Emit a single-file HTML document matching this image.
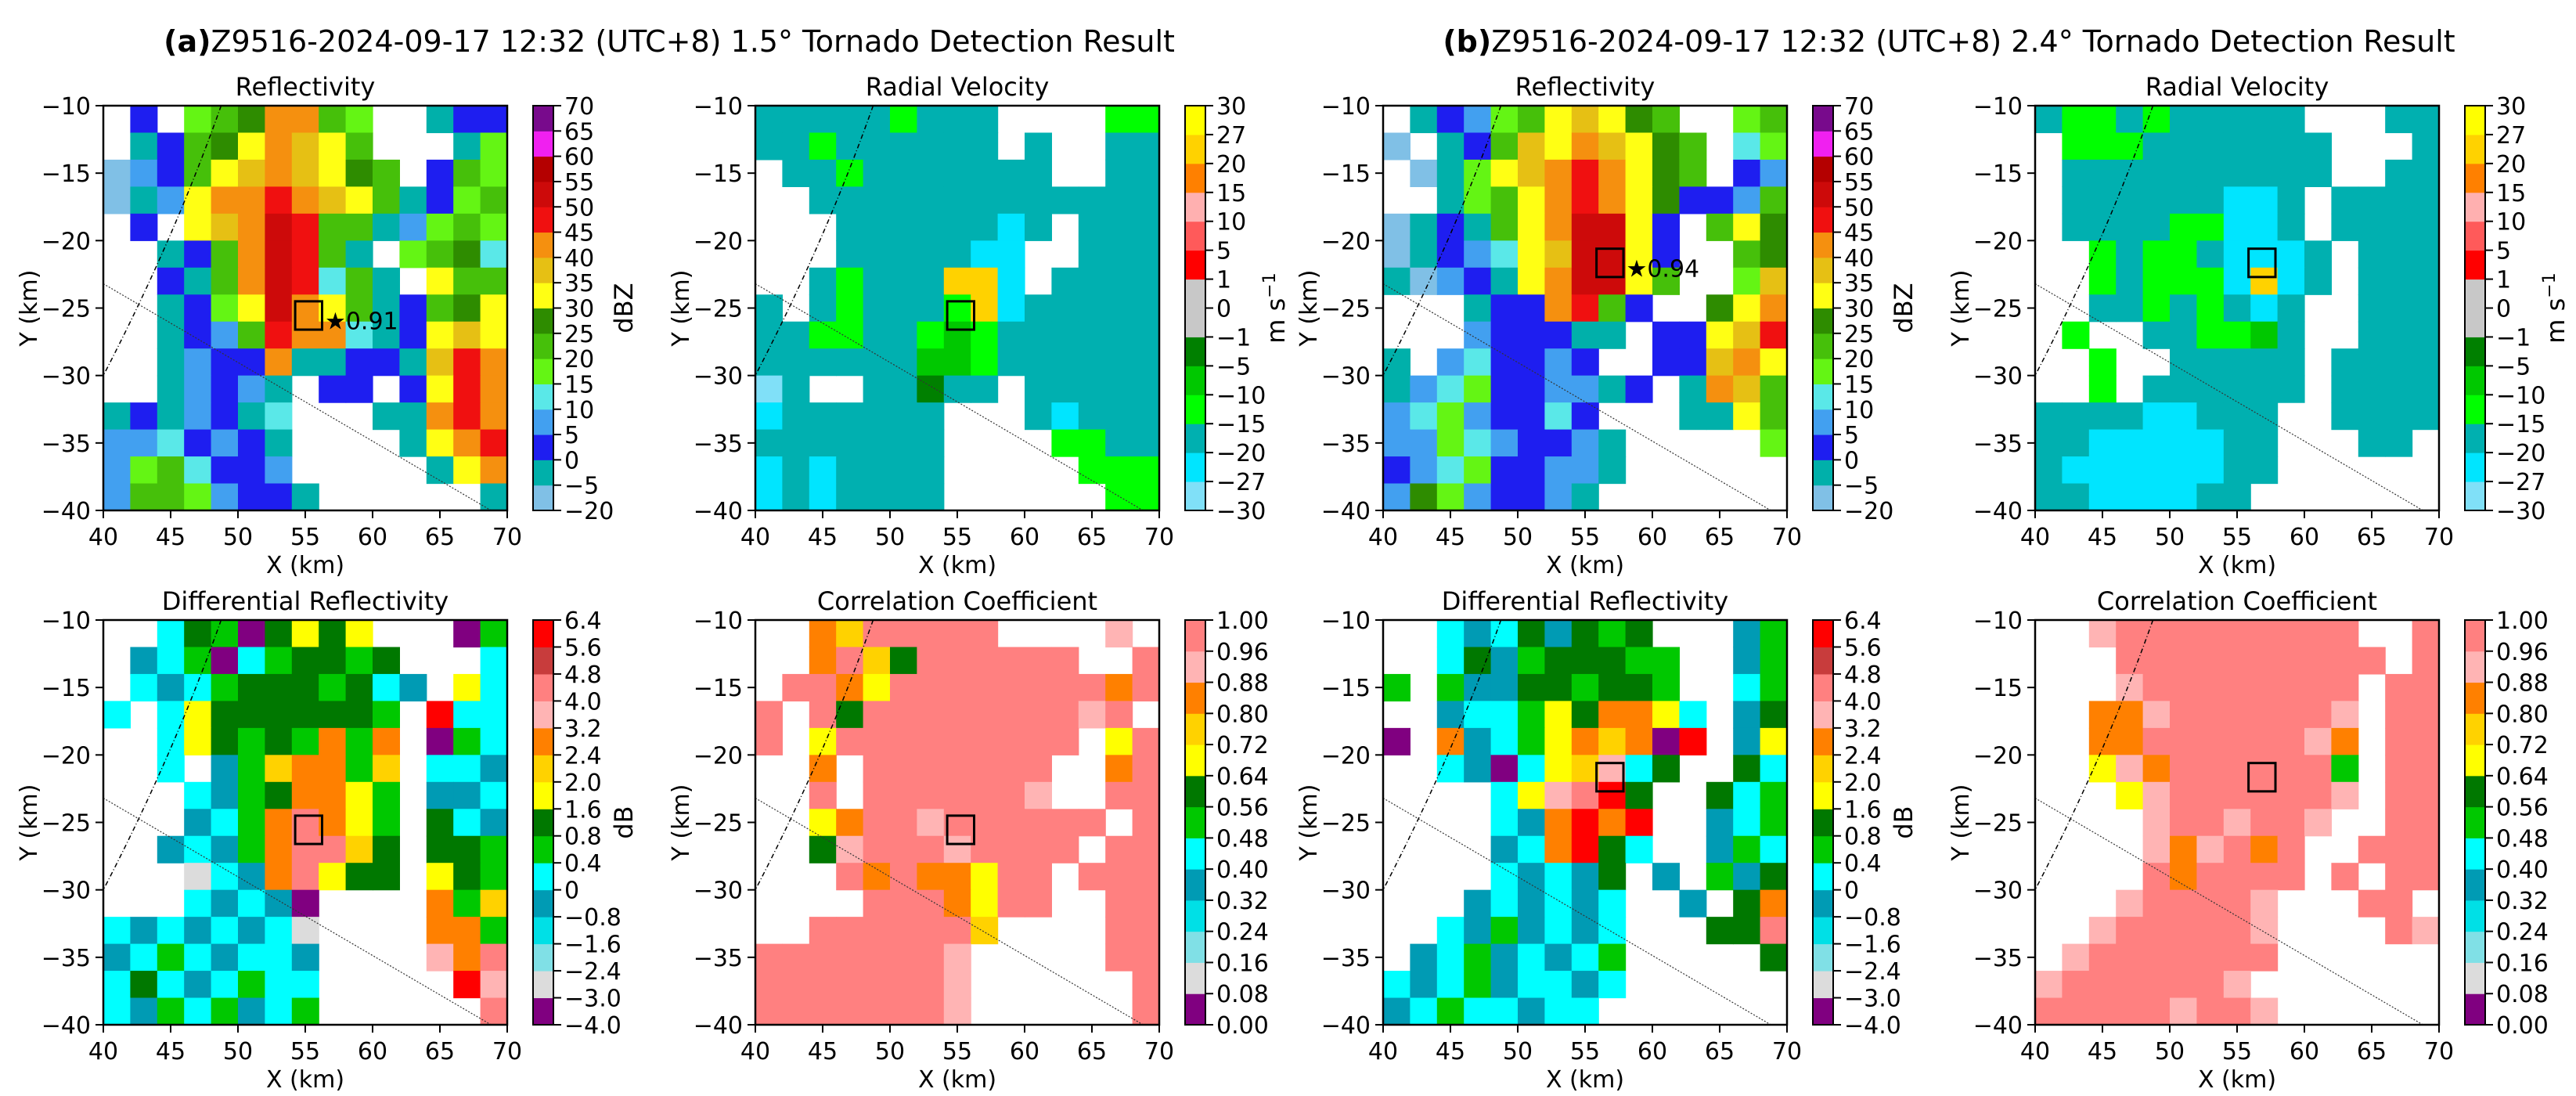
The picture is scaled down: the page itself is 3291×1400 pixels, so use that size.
<!DOCTYPE html>
<html><head><meta charset="utf-8"><style>
html,body{margin:0;padding:0;background:#fff;}
svg{display:block;font-family:"DejaVu Sans","Liberation Sans",sans-serif;}
</style></head><body>
<svg id="fig" width="3291" height="1400" viewBox="0 0 3291 1400" xmlns="http://www.w3.org/2000/svg">
<rect width="3291" height="1400" fill="#fff"/>
<text x="855" y="66" font-size="38" text-anchor="middle"><tspan font-weight="bold">(a)</tspan>Z9516-2024-09-17 12:32 (UTC+8) 1.5° Tornado Detection Result</text>
<text x="2490" y="66" font-size="38" text-anchor="middle"><tspan font-weight="bold">(b)</tspan>Z9516-2024-09-17 12:32 (UTC+8) 2.4° Tornado Detection Result</text>
</svg>
<script>
const xTicks = [40,45,50,55,60,65,70];
const yTicks = [-10,-15,-20,-25,-30,-35,-40];
const reflTicks = ["−20","−5","0","5","10","15","20","25","30","35","40","45","50","55","60","65","70"];
const velTicks = ["−30","−27","−20","−15","−10","−5","−1","0","1","5","10","15","20","27","30"];
const zdrTicks = ["−4.0","−3.0","−2.4","−1.6","−0.8","0","0.4","0.8","1.6","2.0","2.4","3.2","4.0","4.8","5.6","6.4"];
const ccTicks = ["0.00","0.08","0.16","0.24","0.32","0.40","0.48","0.56","0.64","0.72","0.80","0.88","0.96","1.00"];
const reflColors = ['#80c0e6','#00b0aa','#1e1ef0','#42a0f0','#5ae8e8','#64f514','#46c00a','#2e8c00','#ffff14','#e6c014','#f5900f','#f01010','#cd0a0a','#b40000','#f020f0','#780a8c'];
const velColors = ['#80e0f8','#00e5ff','#00b0b0','#00ff00','#00c800','#008000','#c8c8c8','#c8c8c8','#ff0000','#ff5a5a','#ffb0b0','#ff8000','#ffd200','#ffff00'];
const zdrColors = ['#800080','#dcdcdc','#80e0e6','#00e0e6','#009bb4','#00ffff','#00c800','#007800','#ffff00','#ffd200','#ff8000','#ffb4b4','#ff8080','#c83c3c','#ff0000'];
const ccColors = ['#800080','#dcdcdc','#80e0e6','#00e0e6','#009bb4','#00ffff','#00c800','#007800','#ffff00','#ffd200','#ff8000','#ffb4b4','#ff8080'];
const reflCodes = {L:'#80c0e6',T:'#00b0aa',B:'#1e1ef0',M:'#42a0f0',C:'#5ae8e8',l:'#64f514',g:'#46c00a',G:'#2e8c00',y:'#ffff14',o:'#e6c014',O:'#f5900f',r:'#f01010',R:'#cd0a0a'};
const velCodes = {c:'#80e0f8',C:'#00e5ff',T:'#00b0b0',l:'#00ff00',g:'#00c800',G:'#008000',s:'#c8c8c8',r:'#ff0000',p:'#ff5a5a',k:'#ffb0b0',O:'#ff8000',o:'#ffd200',y:'#ffff00'};
const polCodes = {P:'#800080',w:'#dcdcdc',q:'#80e0e6',C:'#00e0e6',T:'#009bb4',c:'#00ffff',g:'#00c800',G:'#007800',y:'#ffff00',o:'#ffd200',O:'#ff8000',k:'#ffb4b4',s:'#ff8080',b:'#c83c3c',r:'#ff0000'};

const gridReflA = [".B.lgGOOgl..TBB",".TBgGyOoyg...Tl","LMBgyoOoyGg.Bgl","LTMyOOrOoygTBlg",".B.yoORrggTMlgl","..TBgORrgT.lgGC","..BTgORrCgT.ygg","..TBlyROygTBgGy","..TBMgrOOCTByoy","..TMBBOTTBBTorO","..TMBMT.BB.ByrO","TBTMBTC...TTOrO","MMCBMBT....TyOr","MlgCBBM.....TyO","MgglMBBT......T"];
const gridVelA = ["TTTTTlTTT....ll","TTlTTTTTT.T..TT",".TTlTTTTTTT..TT","..TTTTTTTTTTTTT","...TTTTTTCT.TTT","...TTTTTCC..TTT","..TlTTTooC.TTTT","T.TlTTTloCTTTTT","TTllTTlglTTTTTT","TTTTTTgglTTTTTT","cT..TTGTT.TTTTT","CTTTTTT...TCTTT","TTTTTTT....llTT","CTCTTTT.....lll","CTCTTTT......ll"];
const gridReflB = [".TBMlgyoyGg..lg","L.TBgoyOoyGg.Cl",".LTlyoOrOyGg.BM","..TlgyOrOyGBBMg","LTBTgyORRyB.gyG","LTBMCyoRRyB..gG","TLMBTyORRyg..lo","...TBBOrgB..GyO","...MBBBTT.BByor","T.MCBBMB..BBoOy","TMClBBMMTB.TOog","MClMBBCB...TTyg","MMlCMBBMT.....l","BMClBBMMT......","MGlMBBMT......."];
const gridVelB = ["TllTlTTTTT...TT",".lllTTTTTTT...T",".TTTTTTTTTT..TT",".TTTTTTCCT.TTTT",".TTTTllCCT.TTTT","..lTllTCCCT.TTT","..lTlllCoCT.TTT","..TTlTlTCT..TTT",".l..TTllgT..TTT","..l..TTTTT.TTTT","..l.TTTTTT.TTTT","TTTTCCTTT..TTTT","TTCCCCCTT...TT.","TCCCCCCTT......","TTCCCCTT......."];
const gridZdrA = ["..cGgPGyGy...Pg",".TcgPcgGGgG...c",".cTcgGGGgGcT.yc","c.cyGGGGGGg.rcc","..cyGgGgOgO.Pgc","..c.TgoOOgo.ccT","...cTgGOOyg.TTc","...TcgOsOyg.GcT","..TcTgOssoG.GGg","...wcTOsyGG.yGg","...cTcTP....Ogo","cTcTcTcw....OOg","TcgcTccT....kOs","cGcTcgcc.....rk","cTgcgTcg......s"];
const gridCcA = ["..Oosssss....k.","..OsoGssssss..s",".ssOyssssssssOs","s.sGssssssssks.","s.ysssssssss.ys","..O.sssssss..Os","..s.ssssssk..ss","..yOsskssssss.s","..Gkssskssss.ss","...sOsOOyss.sss","....sssOyss..ss","..sssssso....ss","sssssssk.....ss","sssssssk......s","sssssssk......s"];
const gridZdrB = ["..cTcGTGgG...Tg","..cGTgGGGgg..Tg","g.gTTGGgGGg..cg","..TccgyGOOyc.TG","P.OTcgyOoOPr.Ty","..cTPcyokcG..Gc","....cyksrG..Gcg","....cTOrOr..Tcg","....TcOrGc..Tgc","....cTcTG.T.gTG","...TcTcTc..T.GO","..cTgTcTc...GGs",".TcgTcTcg.....G","cTcgTccTc......","TcgccTcc......."];
const gridCcB = ["..ksssssssss..s","...ssssssssss.s","...kssssssss.ss","..OOkssssssk.ss","..OOsssssskO.ss","..ykOssssssg.ss","...ykssssssk.ss","....ksskssk..ss","....kOksOs..sss","....sOssss.s.ss","...kssssk...ss.","..ksssssk....sk",".ksssssss......","kssssssk.......","ssssskssk......"];
const boxA = [54.25,-24.5];
const boxB = [55.85,-20.6];
const probA = ["0.91"];
const probB = ["0.94"];

const NS = "http://www.w3.org/2000/svg";
const svg = document.getElementById('fig');
const PW = 516, PH = 517;
function mk(tag, attrs, parent){ const e=document.createElementNS(NS,tag); for(const k in attrs) e.setAttribute(k,attrs[k]); (parent||svg).appendChild(e); return e; }
function xs(p,km){ return p.x + (km-40)/30*PW; }
function ys(p,km){ return p.y + (-10-km)/30*PH; }

const panels = [
 {x:132,y:135,title:"Reflectivity",grid:gridReflA,codes:reflCodes,cb:reflColors,ct:reflTicks,unit:"dBZ",box:boxA,prob:probA,name:"a-reflectivity"},
 {x:965,y:135,title:"Radial Velocity",grid:gridVelA,codes:velCodes,cb:velColors,ct:velTicks,unit:"m s",box:boxA,prob:null,name:"a-velocity"},
 {x:1767,y:135,title:"Reflectivity",grid:gridReflB,codes:reflCodes,cb:reflColors,ct:reflTicks,unit:"dBZ",box:boxB,prob:probB,name:"b-reflectivity"},
 {x:2600,y:135,title:"Radial Velocity",grid:gridVelB,codes:velCodes,cb:velColors,ct:velTicks,unit:"m s",box:boxB,prob:null,name:"b-velocity"},
 {x:132,y:792,title:"Differential Reflectivity",grid:gridZdrA,codes:polCodes,cb:zdrColors,ct:zdrTicks,unit:"dB",box:boxA,prob:null,name:"a-zdr"},
 {x:965,y:792,title:"Correlation Coefficient",grid:gridCcA,codes:polCodes,cb:ccColors,ct:ccTicks,unit:"",box:boxA,prob:null,name:"a-cc"},
 {x:1767,y:792,title:"Differential Reflectivity",grid:gridZdrB,codes:polCodes,cb:zdrColors,ct:zdrTicks,unit:"dB",box:boxB,prob:null,name:"b-zdr"},
 {x:2600,y:792,title:"Correlation Coefficient",grid:gridCcB,codes:polCodes,cb:ccColors,ct:ccTicks,unit:"",box:boxB,prob:null,name:"b-cc"}
];

panels.forEach(p=>{
  const g = mk('g',{});
  
  
  // cells
  p.grid.forEach((row,r)=>{
    const s = row.padEnd(15,'.').slice(0,15);
    for(let c=0;c<15;c++){
      const col = p.codes[s[c]];
      if(!col) continue;
      const x0 = xs(p,40+2*c), x1 = xs(p,42+2*c);
      const y0 = ys(p,-10-2*r), y1 = ys(p,-12-2*r);
      const cell = mk('rect',{x:x0,y:y0,width:x1-x0+0.6,height:y1-y0+0.6,fill:col},g);
      
      
    }
  });
  // range ring arc and radial line
  const arc = mk('path',{d:`M${xs(p,48.75)},${ys(p,-10)} Q${xs(p,45.2)},${ys(p,-20)} ${xs(p,40)},${ys(p,-30)}`,fill:'none',stroke:'#000','stroke-width':1.5,'stroke-dasharray':'6 3 1 3'},g);
  
  
  const rad = mk('line',{x1:xs(p,40),y1:ys(p,-23.2),x2:xs(p,68.8),y2:ys(p,-40),stroke:'#333','stroke-width':1.2,'stroke-dasharray':'2 2'},g);
  
  
  // detection box
  const bx = mk('rect',{x:xs(p,p.box[0]),y:ys(p,p.box[1]),width:xs(p,p.box[0]+2)-xs(p,p.box[0]),height:ys(p,p.box[1]-2.1)-ys(p,p.box[1]),fill:'none',stroke:'#000','stroke-width':3},g);
  
  
  if(p.prob){
    const t = mk('text',{x:xs(p,p.box[0]+2.2),y:ys(p,p.box[1]-1.5)+10,'font-size':30},g);
    t.textContent = '★'+p.prob[0];
    
    
  }
  // frame
  const fr = mk('rect',{x:p.x,y:p.y,width:PW,height:PH,fill:'none',stroke:'#000','stroke-width':2.5},g);
  
  
  // ticks
  xTicks.forEach(v=>{
    const X = xs(p,v);
    mk('line',{x1:X,y1:p.y+PH,x2:X,y2:p.y+PH+10,stroke:'#000','stroke-width':2},g);
    const t = mk('text',{x:X,y:p.y+PH+44,'font-size':30,'text-anchor':'middle'},g);
    t.textContent = String(v);
    
    
  });
  yTicks.forEach(v=>{
    const Y = ys(p,v);
    mk('line',{x1:p.x-10,y1:Y,x2:p.x,y2:Y,stroke:'#000','stroke-width':2},g);
    const t = mk('text',{x:p.x-16,y:Y+11,'font-size':30,'text-anchor':'end'},g);
    t.textContent = '−'+Math.abs(v);
    
    
  });
  const tt = mk('text',{x:p.x+PW/2,y:p.y-13,'font-size':32,'text-anchor':'middle'},g);
  tt.textContent = p.title;
  
  
  const xl = mk('text',{x:p.x+PW/2,y:p.y+PH+80,'font-size':30,'text-anchor':'middle'},g);
  xl.textContent = 'X (km)';
  
  
  const yl = mk('text',{x:0,y:0,'font-size':30,'text-anchor':'middle',transform:`translate(${p.x-85},${p.y+PH/2}) rotate(-90)`},g);
  yl.textContent = 'Y (km)';
  
  
  // colorbar
  const cbx = p.x+549, cbw = 26, n = p.cb.length, bh = PH/n;
  p.cb.forEach((col,i)=>{
    const b = mk('rect',{x:cbx,y:p.y+PH-(i+1)*bh,width:cbw,height:bh+0.5,fill:col},g);
    
    
  });
  mk('rect',{x:cbx,y:p.y,width:cbw,height:PH,fill:'none',stroke:'#000','stroke-width':2},g);
  const tn = p.ct.length;
  p.ct.forEach((lab,i)=>{
    const Y = p.y+PH - i*PH/(tn-1);
    mk('line',{x1:cbx+cbw,y1:Y,x2:cbx+cbw+10,y2:Y,stroke:'#000','stroke-width':2},g);
    const t = mk('text',{x:cbx+cbw+14,y:Y+11,'font-size':30},g);
    t.textContent = lab;
    
    
  });
  if(p.unit){
    const u = mk('text',{x:0,y:0,'font-size':32,'text-anchor':'middle',transform:`translate(${cbx+cbw+101},${p.y+PH/2}) rotate(-90)`},g);
    u.textContent = p.unit;
    if(p.unit==='m s'){ const sp = mk('tspan',{dy:-12,'font-size':22},u); sp.textContent='−1'; }
    
    
  }
});
</script>
</body></html>
